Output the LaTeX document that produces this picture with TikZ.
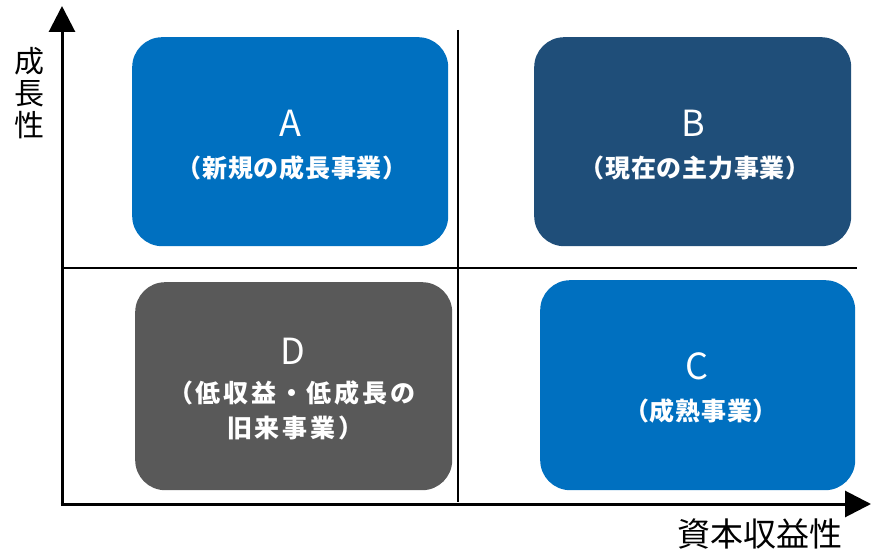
\documentclass[tikz,border=0pt]{standalone}
\usepackage{fontspec}
\setmainfont{Noto Sans CJK JP}
\usetikzlibrary{arrows.meta}
\definecolor{blueA}{HTML}{0070C0}
\definecolor{navyB}{HTML}{1F4E79}
\definecolor{greyD}{HTML}{595959}
\tikzset{
  quad/.style={rounded corners=30pt, draw=none, inner sep=0pt, anchor=north west},
  letter/.style={text=white, font=\fontsize{36}{40}\selectfont, inner sep=0pt},
  sub/.style={text=white, font=\fontsize{25}{35}\selectfont\bfseries\addfontfeature{LetterSpace=3}, inner sep=0pt, align=center},
  subd/.style={sub, font=\fontsize{25}{35}\selectfont\bfseries\addfontfeature{LetterSpace=11}, anchor=west},
  axis/.style={line width=3pt, -{Triangle[length=26pt,width=26pt]}},
  divider/.style={line width=1.5pt},
  axislabel/.style={font=\fontsize{33}{33}\selectfont, inner sep=0pt}
}
\begin{document}
\begin{tikzpicture}[x=1pt,y=-1pt]
\useasboundingbox (0,0) rectangle (871,553);
% boxes
\node[quad, fill=blueA, minimum width=316pt, minimum height=209pt] (A) at (132,37) {};
\node[quad, fill=navyB, minimum width=317pt, minimum height=209pt] (B) at (534,37) {};
\node[quad, fill=greyD, minimum width=317pt, minimum height=208pt] (D) at (135,282) {};
\node[quad, fill=blueA, minimum width=315pt, minimum height=210pt] (C) at (540,280) {};
% dividers
\coordinate (vtop) at (458,30);
\coordinate (vbot) at (458,502);
\coordinate (hl) at (62,268);
\coordinate (hr) at (857,268);
\draw[divider] (vtop) -- (vbot);
\draw[divider] (hl) -- (hr);
% axes
\coordinate (o) at (62,504);
\coordinate (ytip) at (62,6);
\coordinate (xtip) at (871,504);
\draw[axis] (o) -- (ytip);
\draw[axis] ([xshift=-1.5pt]o) -- (xtip);
% texts
\node[letter] (la) at (290,123) {A};
\node[sub] (sa) at (292,168) {（新規の成長事業）};
\node[letter] (lb) at (693,123) {B};
\node[sub] (sb) at (695,168) {（現在の主力事業）};
\node[letter] (ld) at (293,351) {D};
\node[subd] (sd1) at (168,393) {（低収益・低成長の};
\node[subd] (sd2) at (227,428) {旧来事業）};
\node[letter] (lc) at (697,366) {C};
\node[sub] (sc) at (701,411) {（成熟事業）};
% axis labels
\node[axislabel, align=center, font=\fontsize{30}{32}\selectfont] (ylab) at (30,93) {成\\長\\性};
\node[axislabel] (xlab) at (760,534) {資本収益性};
\end{tikzpicture}
\end{document}
